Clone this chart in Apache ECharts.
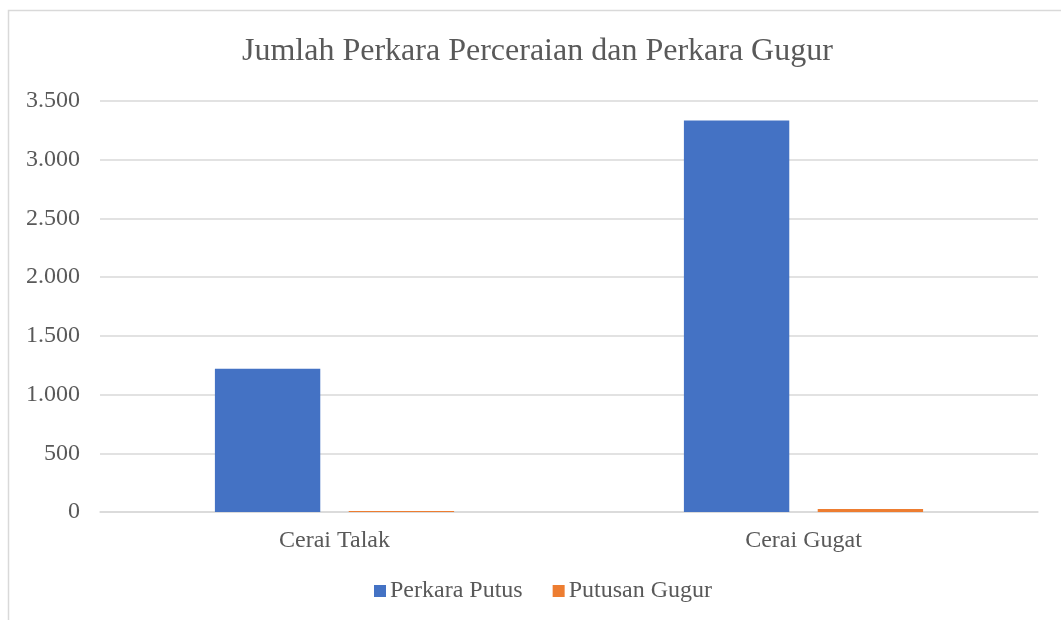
<!DOCTYPE html>
<html>
<head>
<meta charset="utf-8">
<script src="https://cdn.jsdelivr.net/npm/echarts@6/dist/echarts.min.js"></script>
<style>
html,body{margin:0;padding:0;background:#fff;}
#chart{width:1061px;height:620px;}
</style>
</head>
<body>
<div id="chart"></div>
<script>
const categories = ['Cerai Talak', 'Cerai Gugat'];
const perkaraPutus = [1220, 3333];
const putusanGugur = [8, 25];
const seriesNames = ['Perkara Putus', 'Putusan Gugur'];

const FONT = '"Liberation Serif", "Times New Roman", serif';
const TXT = '#595959';

const chart = echarts.init(document.getElementById('chart'));
chart.setOption({
  animation: false,
  backgroundColor: '#fff',
  graphic: [{
    type: 'rect',
    shape: {x: 8.5, y: 10.5, width: 1100, height: 700},
    style: {fill: 'none', stroke: '#d9d9d9', lineWidth: 1.5},
    silent: true
  }],
  title: {
    text: 'Jumlah Perkara Perceraian dan Perkara Gugur',
    left: 237,
    top: 31,
    textStyle: {fontFamily: FONT, fontSize: 32, fontWeight: 'normal', color: TXT}
  },
  legend: {
    data: seriesNames,
    bottom: 12,
    left: 369,
    itemWidth: 12,
    itemHeight: 12,
    itemGap: 30,
    icon: 'rect',
    textStyle: {fontFamily: FONT, fontSize: 24, color: TXT, padding: [0,0,0,-1]}
  },
  grid: {left: 100, right: 23, top: 101, bottom: 108, containLabel: false},
  xAxis: {
    type: 'category',
    data: categories,
    axisLine: {lineStyle: {color: '#d9d9d9', width: 1.5}},
    axisTick: {show: false},
    axisLabel: {fontFamily: FONT, fontSize: 24, color: TXT, margin: 17}
  },
  yAxis: {
    type: 'value',
    min: 0,
    max: 3500,
    interval: 500,
    axisLine: {show: false},
    axisTick: {show: false},
    splitLine: {lineStyle: {color: '#d9d9d9', width: 1.5}},
    axisLabel: {
      fontFamily: FONT, fontSize: 24, color: TXT, margin: 20,
      formatter: v => String(v).replace(/\B(?=(\d{3})+(?!\d))/g, '.')
    }
  },
  series: [
    {name: seriesNames[0], type: 'bar', data: perkaraPutus, itemStyle: {color: '#4472C4'},
     barGap: '27%', barCategoryGap: '49%'},
    {name: seriesNames[1], type: 'bar', data: putusanGugur, itemStyle: {color: '#ED7D31'}}
  ]
});
</script>
</body>
</html>
